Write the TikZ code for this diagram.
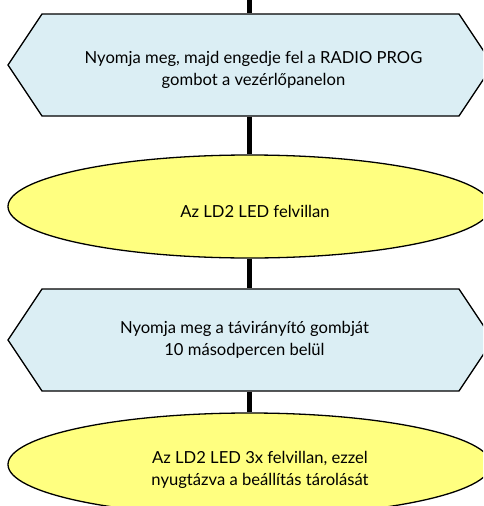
\documentclass[tikz,border=0pt]{standalone}
\usepackage{fontspec}
\setmainfont{Lato}
\usetikzlibrary{shapes.geometric,shapes.symbols}
\definecolor{hexblue}{RGB}{219,238,244}
\definecolor{ellyellow}{RGB}{255,255,128}
\tikzset{
  x=1pt,y=-1pt,
  hexbox/.style={signal, signal to=west and east, signal pointer angle=112.6,
    draw=black, line width=1.3pt, fill=hexblue, minimum width=485pt, minimum height=102pt,
    inner sep=0pt},
  ellbox/.style={ellipse, draw=black, line width=1.3pt, fill=ellyellow,
    minimum width=483pt, minimum height=103pt, inner sep=0pt},
  txt/.style={align=center, inner sep=0pt, font=\fontsize{16.6}{22}\selectfont},
  conn/.style={line width=4.5pt, draw=black}
}
\begin{document}
\begin{tikzpicture}
\clip (0,0) rectangle (483,506);
\fill[white] (0,0) rectangle (483,506);
\coordinate (top) at (249.5,-5);
\node[hexbox] (h1) at (250.5,65) {};
\node[ellbox] (e1) at (249.5,206.5) {};
\node[hexbox] (h2) at (250.5,340) {};
\node[ellbox] (e2) at (249.5,464.5) {};
\draw[conn] (top) -- (h1.north -| top);
\draw[conn] (h1.south -| top) -- (e1.north -| top);
\draw[conn] (e1.south -| top) -- (h2.north -| top);
\draw[conn] (h2.south -| top) -- (e2.north -| top);
\node[txt] (t1) at (253.5,70) {Nyomja meg, majd engedje fel a RADIO PROG\\gombot a vezérlőpanelon};
\node[txt] (t2) at (255,211) {Az LD2 LED felvillan};
\node[txt] (t3) at (244.5,340) {Nyomja meg a távirányító gombját\\10 másodpercen belül};
\node[txt] (t4) at (260,470) {Az LD2 LED 3x felvillan, ezzel\\nyugtázva a beállítás tárolását};
\end{tikzpicture}
\end{document}
